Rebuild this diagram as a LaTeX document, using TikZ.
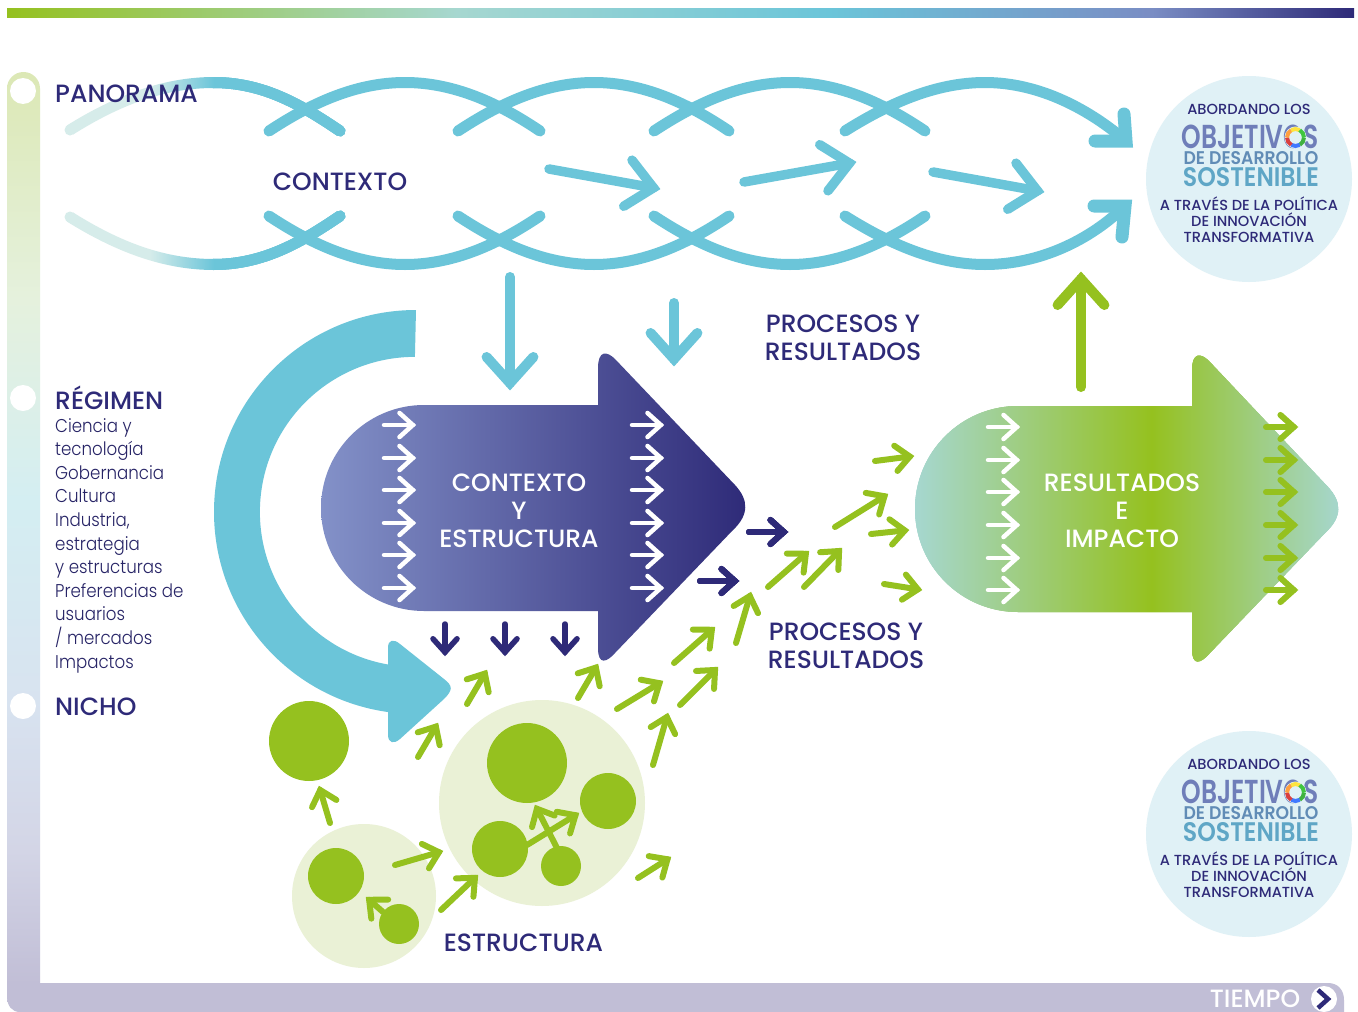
\documentclass[tikz,border=0pt]{standalone}
\usepackage{fontspec}
\usepackage{graphicx}
\usetikzlibrary{calc}
\setmainfont{Poppins Medium}
\newfontfamily\lightf{Poppins Light}[FakeStretch=0.9]
\newfontfamily\semif{Poppins SemiBold}
\definecolor{blu}{HTML}{6BC5D9}
\definecolor{drk}{HTML}{2E2A78}
\definecolor{gn}{HTML}{95C11F}
\definecolor{lgn}{HTML}{EAF1D6}
\definecolor{lbl}{HTML}{E0F1F6}
\definecolor{fad}{HTML}{D6ECEA}
\definecolor{aqua}{HTML}{A6D7D0}
\definecolor{peri}{HTML}{7A8DC4}
\pgfdeclarehorizontalshading{topbar}{100bp}{color(0bp)=(gn); color(25bp)=(gn); color(41.7bp)=(aqua); color(55.5bp)=(blu); color(67.5bp)=(peri); color(75bp)=(drk); color(100bp)=(drk)}
\definecolor{b1}{HTML}{DCE8B5}\definecolor{b2}{HTML}{E5F1DD}\definecolor{b3}{HTML}{D4EEF2}
\definecolor{b4}{HTML}{D8E3F0}\definecolor{b5}{HTML}{D3D5E6}\definecolor{b6}{HTML}{C1BED6}
\pgfdeclareverticalshading{sidebar}{100bp}{color(0bp)=(b6); color(26.5bp)=(b6); color(33.6bp)=(b5); color(41.6bp)=(b4); color(52.2bp)=(b3); color(62.9bp)=(b2); color(75bp)=(b1); color(100bp)=(b1)}
\pgfdeclarehorizontalshading{fadewave}{100bp}{color(0bp)=(fad); color(53bp)=(fad); color(75bp)=(blu); color(100bp)=(blu)}
\pgfdeclarehorizontalshading{greenshape}{100bp}{color(0bp)=(aqua); color(25bp)=(aqua); color(52.7bp)=(gn); color(75bp)=(aqua); color(100bp)=(aqua)}
\definecolor{pl}{HTML}{8391C8}
\pgfdeclarehorizontalshading{purpshape}{100bp}{color(0bp)=(pl); color(25bp)=(pl); color(75bp)=(drk); color(100bp)=(drk)}
\newcommand{\arw}[5]{%
  \pgfmathsetmacro\aoff{0.7*#2}%
  \coordinate (aT) at ($(#5)!\aoff pt!(#4)$);
  \coordinate (aA) at ($(aT)!#3pt!42:(#4)$);
  \coordinate (aB) at ($(aT)!#3pt!-42:(#4)$);
  \draw[#1,line width=#2pt,line cap=round] (#4) -- (aT);
  \draw[#1,line width=#2pt,line cap=round,line join=miter] (aA) -- (aT) -- (aB);
}
\newcommand{\gar}[2]{\arw{gn}{6}{19}{#1}{#2}}
\newcommand{\wv}[1]{\draw[blu,line width=11pt,line cap=round] (#1-136,131) .. controls (#1-95,104) and (#1-50,82.5) .. (#1,82.5) .. controls (#1+50,82.5) and (#1+95,104) .. (#1+135,131);}
\tikzset{
  lab/.style={inner sep=0pt,font=\fontsize{25}{25}\selectfont,text=drk},
  whlab/.style={inner sep=0pt,font=\fontsize{25}{25}\selectfont,text=white},
  small/.style={inner sep=0pt,font=\fontsize{14.6}{16}\selectfont,text=drk},
  logot/.style={inner sep=0pt,font=\semif},
}
\newcommand{\sdg}[1]{%
  \fill[lbl] (1249,179) circle (103);
  \node[small] (#1a) at (1249,109) {ABORDANDO LOS};
  \node[logot,text=peri!85!drk] (#1b) at (1250,137) {\resizebox{137pt}{23.5pt}{OBJETIVOS}};
  \node[logot,text=blu!55!drk!90!white] (#1c) at (1251,158.5) {\resizebox{135pt}{13pt}{DE DESARROLLO}};
  \node[logot,text=blu!80!drk] (#1d) at (1251,177.5) {\resizebox{136pt}{19pt}{SOSTENIBLE}};
  \fill[lbl] (1295.5,137.5) circle (11);
  \foreach \p/\c in {0/green!60!black,60/blue!70!cyan,120/red!80!black,180/orange,240/yellow!80!orange,300/green!70!black}
    \draw[\c!75!white,line width=4pt] (1295.5,137.5) ++(\p:8.5) arc[start angle=\p,end angle=\p+60,radius=8.5];
  \node[small,align=center] (#1e) at (1249,220) {A TRAVÉS DE LA POLÍTICA\\DE INNOVACIÓN\\TRANSFORMATIVA};
}
\begin{document}
\begin{tikzpicture}[x=1pt,y=-1pt]
\useasboundingbox (0,0) rectangle (1358,1012);
\fill[white] (0,0) rectangle (1358,1012);
% top bar
\shade[shading=topbar] (7,8) rectangle (1354,17);
% side and bottom bar
\shade[shading=sidebar] (7,996) -- (7,88.5) arc[start angle=180,end angle=360,radius=16.5] -- (40,983) -- (1328,983) .. controls (1338,983) and (1344,990) .. (1344,1000) -- (1344,1012) -- (20,1012) .. controls (12,1012) and (7,1006) .. (7,996) -- cycle;
\fill[white] (23,91) circle (13);
\fill[white] (23,398) circle (13);
\fill[white] (23,706) circle (13);
\node[whlab] (tiempo) at (1255,999) {TIEMPO};
\fill[white] (1324,999) circle (13);
\draw[drk,line width=4.5pt,line join=miter] (1318,990) -- (1328,999) -- (1318,1008);
% braids
\foreach \p in {405,594,790} \wv{\p}
\draw[blu,line width=11pt,line cap=round] (213,82.5) .. controls (263,82.5) and (300,104) .. (340,131);
\draw[blu,line width=11pt,line cap=round,line join=miter] (845,131) .. controls (888,104) and (935,82.5) .. (985,82.5) .. controls (1040,82.5) and (1090,110) .. (1126,141);
\draw[blu,line width=13pt,line cap=round,line join=miter] (1124,114) -- (1126,141) -- (1095,141);
\fill[fad] (70,130) circle (5.5);
\shade[shading=fadewave] (67,125.4) .. controls (115,95.5) and (163,77) .. (214,77) -- (214,88) .. controls (165,88) and (121,104.5) .. (73,134.6) -- cycle;
\begin{scope}[y=1pt,yshift=-347pt]
\foreach \p in {405,594,790} \wv{\p}
\draw[blu,line width=11pt,line cap=round] (213,82.5) .. controls (263,82.5) and (300,104) .. (340,131);
\fill[fad] (70,130) circle (5.5);
\shade[shading=fadewave] (67,125.4) .. controls (115,95.5) and (163,77) .. (214,77) -- (214,88) .. controls (165,88) and (121,104.5) .. (73,134.6) -- cycle;
\draw[blu,line width=11pt,line cap=round] (845,131) .. controls (888,104) and (935,82.5) .. (985,82.5) .. controls (1040,82.5) and (1090,107) .. (1125,141);
\end{scope}
\draw[blu,line width=13pt,line cap=round,line join=miter] (1122,237) -- (1125,206) -- (1094,206);
% blue arrows
\arw{blu}{9.5}{35}{549,169}{660,189}
\arw{blu}{9.5}{35}{744,182}{856,162}
\arw{blu}{9.5}{35}{933,172}{1044,192}
\arw{blu}{10}{35}{510,277}{510,390}
\arw{blu}{10}{35}{674,303}{674,366}
% big curved arrow
\fill[blu] (416,310) arc[start angle=270,end angle=98,radius=202] -- (388,709) -- (388,734) .. controls (388,744) and (394,744) .. (400,739) -- (444,699) .. controls (453,690) and (453,686) .. (444,679) -- (400,644) .. controls (394,639) and (388,639) .. (388,648) -- (388,664.5) arc[start angle=100,end angle=270,radius=155] -- cycle;
% purple shape
\shade[shading=purpshape] (424,405) -- (598,405) -- (598,368) .. controls (598,350) and (607,351) .. (615,359) -- (735,485) .. controls (749,500) and (749,515) .. (733,530) -- (615,653) .. controls (607,662) and (598,666) .. (598,648) -- (598,611) -- (424,611) arc[start angle=90,end angle=270,radius=103] -- cycle;
\node[whlab,align=center,font=\fontsize{25}{28}\selectfont] (ce) at (519,511) {CONTEXTO\\Y\\ESTRUCTURA};
\foreach \y in {425,458,490,523,555,588} {
  \arw{white}{4.5}{18}{384,\y}{416,\y}
  \arw{white}{4.5}{18}{632,\y}{664,\y}
}
\foreach \x in {445,505,565} \arw{drk}{5.5}{18}{\x,624}{\x,656}
\arw{drk}{6}{18}{749,532}{788,532}
\arw{drk}{6}{18}{700,581}{739,581}
% green shape
\shade[shading=greenshape] (1018,406) -- (1192,406) -- (1192,370) .. controls (1192,352) and (1201,353) .. (1209,361) -- (1328,487) .. controls (1342,502) and (1342,517) .. (1326,532) -- (1209,654) .. controls (1201,663) and (1192,667) .. (1192,649) -- (1192,612) -- (1018,612) arc[start angle=90,end angle=270,radius=103] -- cycle;
\node[whlab,align=center,font=\fontsize{25}{28}\selectfont] (ri) at (1122,511) {RESULTADOS\\E\\IMPACTO};
\foreach \y in {427,460,492,525,558,590} {
  \arw{white}{4.5}{18}{988,\y}{1020,\y}
  \arw{gn}{6}{18}{1266,\y}{1298,\y}
}
\arw{gn}{10}{35}{1081,387}{1081,272}
% bubbles
\fill[lgn] (542,803) circle (103);
\fill[lgn] (364,896) circle (72);
\fill[gn] (309,741) circle (40);
\fill[gn] (527,763) circle (40);
\fill[gn] (608,801) circle (28);
\fill[gn] (500,849) circle (28);
\fill[gn] (561,866) circle (20);
\fill[gn] (336,876) circle (28);
\fill[gn] (399,924) circle (20);
% green arrows
\gar{418,757}{438,723}
\gar{467,704}{487,670}
\gar{578,698}{598,664}
\gar{617,709}{663,681}
\gar{653,765}{668,713}
\gar{680,705}{718,667}
\gar{674,663}{715,627}
\gar{736,643}{751,592}
\gar{768,587}{809,551}
\gar{804,587}{842,548}
\gar{835,527}{888,494}
\gar{875,461}{914,456}
\gar{871,534}{909,530}
\gar{884,584}{922,590}
\gar{330,823}{319,786}
\gar{395,865}{443,851}
\gar{441,910}{478,875}
\gar{557,848}{535,805}
\gar{527,845}{579,813}
\gar{638,878}{671,857}
\gar{383,912}{366,897}
% logos
\sdg{l}
\begin{scope}[yshift=-655pt]\sdg{m}\end{scope}
% labels
\node[lab,anchor=west] (pano) at (55,94) {PANORAMA};
\node[lab] (ctx) at (340,182) {CONTEXTO};
\node[lab,align=center,font=\fontsize{25}{28.5}\selectfont] (pr1) at (843,338) {PROCESOS Y\\RESULTADOS};
\node[lab,align=center,font=\fontsize{25}{28.5}\selectfont] (pr2) at (846,646) {PROCESOS Y\\RESULTADOS};
\node[lab] (est) at (523.5,943) {ESTRUCTURA};
\node[lab,anchor=base west] (reg) at (55,409.5) {RÉGIMEN};
\node[lab,anchor=west] (nicho) at (55,707) {NICHO};
\node[anchor=north west,inner sep=0pt,align=left,text=drk!85!black,font=\lightf\fontsize{18.5}{23.6}\selectfont] (lst) at (55,418) {Ciencia y\\tecnología\\Gobernancia\\Cultura\\Industria,\\estrategia\\y estructuras\\Preferencias de\\usuarios\\/ mercados\\Impactos};
\end{tikzpicture}
\end{document}
